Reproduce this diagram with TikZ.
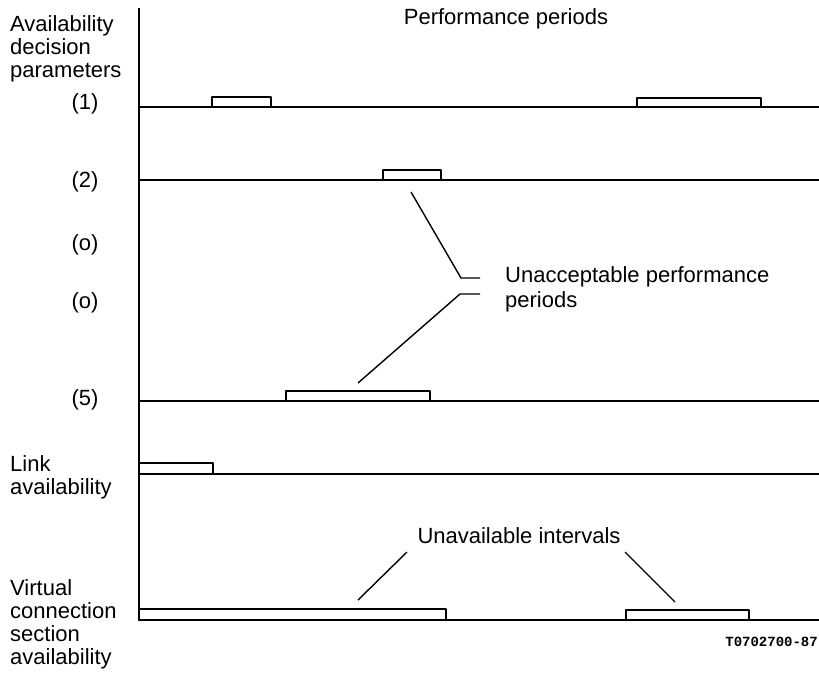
\documentclass[tikz,border=0pt]{standalone}
\usepackage{fontspec}
\setmainfont{Liberation Sans}
\newfontfamily\tagfont{Liberation Mono}
\usetikzlibrary{positioning}

\begin{document}
\begin{tikzpicture}[
    x=1pt, y=-1pt,
    txt/.style={font=\fontsize{22}{23}\selectfont, inner sep=0pt, align=left},
    param/.style={font=\fontsize{22}{23}\selectfont, inner sep=0pt},
    axis/.style={line width=2.2pt},
    trace/.style={line width=1.5pt},
    pulse/.style={line width=2.4pt, line join=round},
    leader/.style={line width=1.4pt}
]
\useasboundingbox (0,0) rectangle (819,673);

% Time axis
\draw[axis] (139,8) -- (139,621);

% Left labels
\node[txt, anchor=north west] (adp) at (10,15) {Availability\\decision\\parameters};
\node[param] (p1) at (85,104) {(1)};
\node[param] (p2) at (85,182) {(2)};
\node[param] (po1) at (85,245) {(o)};
\node[param] (po2) at (85,303) {(o)};
\node[param] (p5) at (85,400) {(5)};
\node[txt, anchor=north west] (link) at (10,455) {Link\\availability};
\node[txt, anchor=north west] (vcs) at (10,579) {Virtual\\connection\\section\\availability};

% Heading
\node[param, anchor=base] (perf) at (506,24) {Performance periods};

% Traces
\draw[trace] (139,107) -- (819,107);
\draw[trace] (139,180) -- (819,180);
\draw[trace] (139,401) -- (819,401);
\draw[trace] (139,474) -- (819,474);
\draw[trace] (139,620) -- (819,620);

% Pulses: parameter (1)
\draw[pulse] (212,107) |- (271,97) -- (271,107);
\draw[pulse] (637,107) |- (761,98) -- (761,107);
% parameter (2)
\draw[pulse] (383,180) |- (441,170) -- (441,180);
% parameter (5)
\draw[pulse] (286,401) |- (430,391) -- (430,401);
% link availability
\draw[pulse] (139,463) -- (213,463) -- (213,474);
% virtual connection section availability
\draw[pulse] (139,609) -- (446,609) -- (446,620);
\draw[pulse] (626,620) |- (749,610) -- (749,620);

% Unacceptable performance periods
\node[txt, font=\fontsize{22}{25}\selectfont, anchor=north west] (unacc) at (505,266) {Unacceptable performance\\periods};
\coordinate (up2) at (411,192);
\coordinate (up5) at (358,383);
\draw[leader] (up2) -- (461,278) -- ([xshift=-25pt,yshift=-12pt]unacc.north west);
\draw[leader] (up5) -- (460,294) -- ([xshift=-25pt,yshift=-28pt]unacc.north west);

% Unavailable intervals
\node[param, anchor=base] (unav) at (519,543) {Unavailable intervals};
\coordinate (ua1) at (358,600);
\coordinate (ua2) at (675,602);
\draw[leader] ([xshift=-112pt,yshift=-9pt]unav.base) -- (ua1);
\draw[leader] ([xshift=106pt,yshift=-9pt]unav.base) -- (ua2);

% Drawing number
\node[anchor=base east, inner sep=0pt, font=\tagfont\bfseries\fontsize{14}{15}\selectfont] (tag) at (818,646) {T0702700-87};
\end{tikzpicture}
\end{document}
